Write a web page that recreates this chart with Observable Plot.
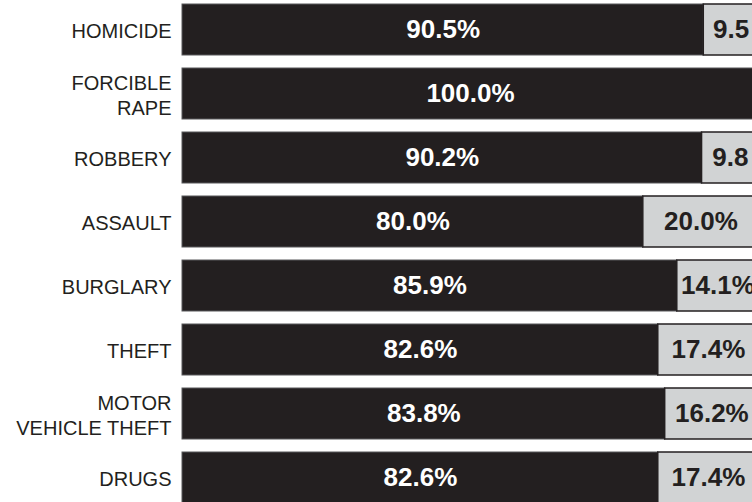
<!DOCTYPE html>
<html>
<head>
<meta charset="utf-8">
<script src="https://cdn.jsdelivr.net/npm/d3@7"></script>
<script src="https://cdn.jsdelivr.net/npm/@observablehq/plot@0.6"></script>
<style>
  html, body { margin: 0; padding: 0; background: #ffffff; }
  #chart svg { display: block; overflow: hidden; }
</style>
</head>
<body>
<div id="chart"></div>
<script>
const categories = ["HOMICIDE", "FORCIBLE RAPE", "ROBBERY", "ASSAULT", "BURGLARY", "THEFT", "MOTOR VEHICLE THEFT", "DRUGS"];
const categoryLabels = ["HOMICIDE", "FORCIBLE\nRAPE", "ROBBERY", "ASSAULT", "BURGLARY", "THEFT", "MOTOR\nVEHICLE THEFT", "DRUGS"];
const darkPct = [90.5, 100.0, 90.2, 80.0, 85.9, 82.6, 83.8, 82.6];
const lightPct = [9.5, 0, 9.8, 20.0, 14.1, 17.4, 16.2, 17.4];

const rows = categories.map((c, i) => ({cat: c, label: categoryLabels[i], dark: darkPct[i], light: lightPct[i]}));
const lightRows = rows.filter(d => d.light > 0);

const chart = Plot.plot({
  width: 752,
  height: 502,
  marginLeft: 182,
  marginRight: 0,
  marginTop: 0,
  marginBottom: 0,
  style: {fontFamily: "'Liberation Sans', Arial, sans-serif", background: "#ffffff", overflow: "hidden"},
  x: {axis: null, domain: [0, 100], range: [182, 758]},
  y: {axis: null, domain: categories, range: [-2.4, 509.6], paddingInner: 0.2, paddingOuter: 0.1},
  marks: [
    Plot.barX(rows, {y: "cat", x1: 0, x2: "dark", fill: "#231f20", stroke: "#58595b", strokeWidth: 1}),
    Plot.barX(lightRows, {y: "cat", x1: "dark", x2: d => d.dark + d.light, fill: "#d1d3d4", stroke: "#231f20", strokeWidth: 1.5}),
    Plot.text(rows, {y: "cat", x: d => d.dark / 2, text: d => d.dark.toFixed(1) + "%", fill: "#ffffff", fontWeight: "bold", fontSize: 26}),
    Plot.text(lightRows, {y: "cat", x: d => d.dark + d.light / 2, text: d => d.light < 10 ? d.light.toFixed(1) : d.light.toFixed(1) + "%", fill: "#231f20", fontWeight: "bold", fontSize: 26}),
    Plot.text(rows, {y: "cat", x: 0, text: "label", textAnchor: "end", dx: -11, fontSize: 20, lineHeight: 1.25, fill: "#231f20"})
  ]
});
document.getElementById("chart").appendChild(chart);
</script>
</body>
</html>
